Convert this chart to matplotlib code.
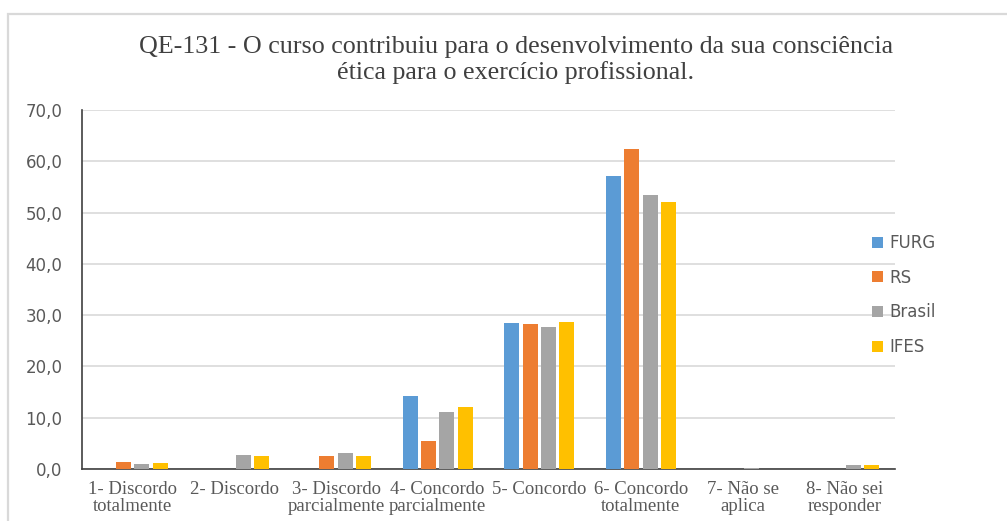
import matplotlib
matplotlib.use("Agg")
import matplotlib.pyplot as plt
import numpy as np
from matplotlib.patches import Rectangle

categories = ["1- Discordo\ntotalmente", "2- Discordo", "3- Discordo\nparcialmente",
              "4- Concordo\nparcialmente", "5- Concordo", "6- Concordo\ntotalmente",
              "7- Não se\naplica", "8- Não sei\nresponder"]
series_names = ["FURG", "RS", "Brasil", "IFES"]
furg = [0.0, 0.0, 0.0, 14.2, 28.5, 57.1, 0.0, 0.0]
rs = [1.3, 0.0, 2.6, 5.4, 28.3, 62.3, 0.0, 0.0]
brasil = [0.9, 2.8, 3.2, 11.1, 27.7, 53.4, 0.2, 0.7]
ifes = [1.1, 2.6, 2.6, 12.1, 28.7, 52.0, 0.0, 0.7]
colors = ["#5b9bd5", "#ed7d31", "#a5a5a5", "#ffc000"]
title = "QE-131 - O curso contribuiu para o desenvolvimento da sua consciência\nética para o exercício profissional."
yticks = [0, 10, 20, 30, 40, 50, 60, 70]

W, H = 1007, 521
fig = plt.figure(figsize=(W / 100, H / 100), dpi=100)
fig.patch.set_facecolor("white")

# outer chart border
fig.patches.append(Rectangle((7.5 / W, -0.1), 1.2, 1 - 13.5 / H + 0.1,
                             transform=fig.transFigure, fill=False,
                             edgecolor="#d9d9d9", linewidth=1.6))

ax = fig.add_axes([82 / W, 1 - 469 / H, (895 - 82) / W, (469 - 110) / H])
x = np.arange(len(categories))
bw = 0.148
step = 0.18
all_series = [furg, rs, brasil, ifes]
for i, (name, vals, c) in enumerate(zip(series_names, all_series, colors)):
    ax.bar(x + (i - 1.5) * step, vals, width=bw, color=c, label=name, zorder=3)

ax.set_xlim(-0.5, len(categories) - 0.5)
ax.set_ylim(0, 70)
ax.set_yticks(yticks)
ax.set_yticklabels([f"{v:.1f}".replace(".", ",") for v in yticks],
                   fontsize=12, color="#595959", family="DejaVu Sans")
ax.set_xticks(x)
ax.set_xticklabels(categories, fontsize=13.5, color="#595959",
                   family="Liberation Serif", linespacing=0.95)
ax.tick_params(axis="both", length=0)
ax.tick_params(axis="y", pad=14)
ax.tick_params(axis="x", pad=9)
ax.grid(axis="y", color="#d9d9d9", linewidth=1.2, zorder=0)
for s in ["top", "right"]:
    ax.spines[s].set_visible(False)
ax.spines["left"].set_color("#404040")
ax.spines["bottom"].set_color("#404040")
ax.spines["left"].set_linewidth(1.2)
ax.spines["bottom"].set_linewidth(1.2)

fig.text(516 / W, 1 - 60 / H, title, ha="center", va="center",
         fontsize=18.7, color="#404040", family="Liberation Serif", linespacing=1.22)

leg = fig.legend(loc="upper left", bbox_to_anchor=(857 / W, 1 - 219 / H),
                 frameon=False, handlelength=0.65, handleheight=0.65,
                 handletextpad=0.4, labelspacing=1.0,
                 prop={"family": "DejaVu Sans", "size": 12})
for t in leg.get_texts():
    t.set_color("#595959")

fig.savefig("out.png", dpi=100)
